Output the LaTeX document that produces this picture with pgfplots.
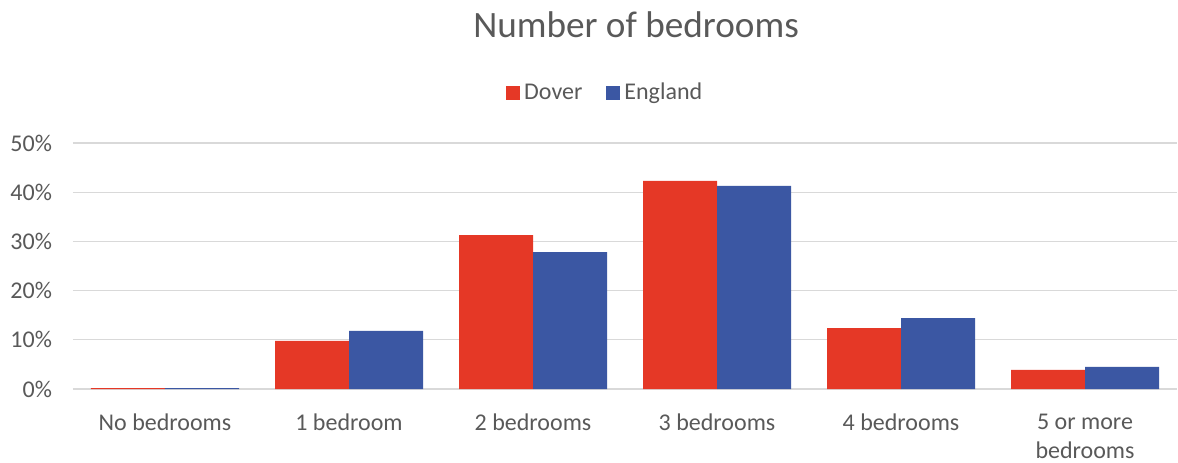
\documentclass[border=0pt]{standalone}
\usepackage{pgfplots}
\pgfplotsset{compat=1.18}
\usepackage{fontspec}
\setmainfont{Carlito}

\definecolor{doverred}{RGB}{229,56,38}
\definecolor{englandblue}{RGB}{59,87,163}
\definecolor{txtgray}{RGB}{89,89,89}
\definecolor{gridgray}{RGB}{217,217,217}

\begin{document}
\begin{tikzpicture}
\path[use as bounding box] (-36.5pt,-36.5pt) rectangle (552.5pt,194.5pt);
\begin{axis}[
    at={(0,0)}, anchor=south west,
    scale only axis,
    width=552pt, height=123pt,
    ybar=0pt,
    bar width=37pt,
    xmin=-0.5, xmax=5.5,
    ymin=0, ymax=0.5,
    xtick={0,1,2,3,4,5},
    xticklabels={No bedrooms, 1 bedroom, 2 bedrooms, 3 bedrooms, 4 bedrooms, {5 or more\\bedrooms}},
    x tick label style={align=center, yshift=-9pt, font=\fontsize{12}{14.5}\selectfont, text=txtgray},
    ytick={0,0.1,0.2,0.3,0.4,0.5},
    yticklabels={0\%,10\%,20\%,30\%,40\%,50\%},
    y tick label style={font=\fontsize{12}{14}\selectfont, text=txtgray, xshift=-7pt},
    major tick length=0pt,
    ymajorgrids,
    grid style={gridgray, line width=0.6pt},
    axis line style={draw=none},
    title={Number of bedrooms},
    title style={font=\fontsize{18.6}{22}\selectfont, text=txtgray, at={(0.510,1)}, anchor=center, yshift=53pt},
    legend style={draw=none, fill=none, at={(0.483,1.204)}, anchor=center,
        font=\fontsize{12}{14}\selectfont, text=txtgray,
        legend columns=2, /tikz/every even column/.append style={column sep=10pt}},
    legend image code/.code={\fill[#1] (0pt,-3.4pt) rectangle (7pt,3.6pt);},
]
\addplot[fill=doverred, draw=none] coordinates {
(0,0.002) (1,0.098) (2,0.313) (3,0.423) (4,0.124) (5,0.039)
};
\addplot[fill=englandblue, draw=none] coordinates {
(0,0.002) (1,0.118) (2,0.278) (3,0.413) (4,0.144) (5,0.045)
};
\legend{Dover, England}
\end{axis}
\end{tikzpicture}
\end{document}
